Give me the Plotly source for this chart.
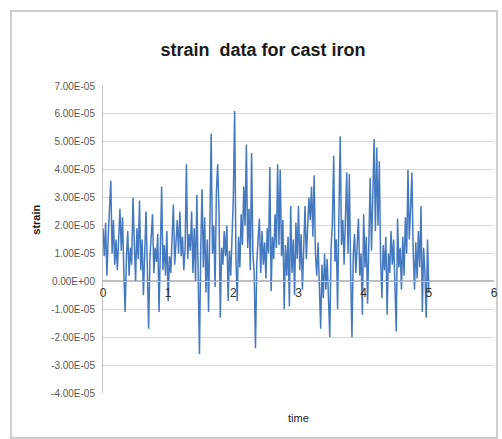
import plotly.graph_objects as go

# strain values in units of 1E-05, sampled every 0.02 s from t = 0 to 5
strain_e5 = [
    1.9, 0.9, 2.1, 0.2, 1.6, 2.8, 3.6, 1.0, 2.2, 0.6,
    1.5, 0.4, 1.3, 2.6, 1.1, 2.3, 0.3, -1.1, 0.9, 1.8,
    0.2, 1.2, 0.6, 3.0, 1.4, 0.0, 1.9, 0.8, 2.9, 0.4,
    1.5, -0.5, 1.0, 2.5, 0.5, -1.7, 0.8, 1.6, 2.4, 0.3,
    1.2, 0.7, 1.7, -1.1, 1.0, 3.4, 0.4, 1.3, 0.2, 1.8,
    -0.7, 0.9, 0.3, 1.9, 2.75, 0.6, 1.5, 2.2, 1.0, 2.5,
    0.9, 1.6, 0.4, 1.2, 4.2, 0.8, 1.7, 1.1, 2.5, 0.3,
    1.9, 0.0, 3.1, 0.6, -2.6, 1.2, 3.3, 0.5, 2.3, -0.4,
    1.5, -1.1, 2.8, 5.3, 1.0, 2.0, -0.2, 3.2, 4.2, 2.5,
    -1.3, 1.2, 0.6, 1.8, 0.9, 2.0, -0.7, 1.1, 0.2, 1.7,
    3.0, 6.1, 0.8, -0.7, 1.6, 0.5, 2.4, 1.3, 3.4, 2.0,
    4.9, 1.2, 2.6, 0.4, 4.6, 1.0, 0.3, -2.4, 0.7, 1.5,
    2.25, 0.3, 1.8, 0.6, 1.4, 0.1, 1.9, 1.0, 4.1, -0.35,
    1.6, 0.8, 2.4, 1.2, 4.2, 1.3, 4.0, 0.9, 2.2, -1.0,
    1.3, 0.2, 1.6, -0.9, 2.7, 0.3, 1.5, -0.5, 2.1, 0.8,
    2.7, 0.4, 1.7, -0.3, 1.2, 2.7, 0.8, 1.9, 3.0, 2.2,
    3.4, 1.6, 3.8, 1.0, 0.2, 1.4, 0.0, -1.7, 0.6, -0.6,
    1.0, -0.3, 0.8, -0.8, -2.0, 1.2, 2.1, 4.5, 0.7, 1.5,
    -1.0, 2.4, 5.2, 1.3, 2.2, 0.6, 1.9, 3.9, 1.0, 3.85,
    0.4, -2.0, 0.9, 1.7, 0.3, 1.4, 2.25, 0.2, 1.0, -1.2,
    2.4, 0.5, 1.6, -0.8, 2.0, 3.7, 1.1, 2.8, 5.1, 1.8,
    4.8, 2.0, 4.3, 0.8, -0.6, 1.3, 0.4, 1.6, -1.2, 1.0,
    0.3, 1.8, 0.6, 1.5, -0.4, -1.8, 2.25, 0.5, 1.2, -0.3,
    1.6, 0.2, 2.3, 1.0, 4.0, 1.5, 2.6, 3.9, 1.1, -0.3,
    1.4, 0.1, 1.8, 0.5, 2.7, -1.1, 1.2, 0.3, -1.3, 1.5,
    -0.4,
]
sample_step = 0.02
time = [round(i * sample_step, 2) for i in range(len(strain_e5))]
strain = [v * 1e-5 for v in strain_e5]

y_tick_vals = [7e-5, 6e-5, 5e-5, 4e-5, 3e-5, 2e-5, 1e-5, 0.0, -1e-5, -2e-5, -3e-5, -4e-5]
y_tick_text = ["7.00E-05", "6.00E-05", "5.00E-05", "4.00E-05", "3.00E-05", "2.00E-05",
               "1.00E-05", "0.00E+00", "-1.00E-05", "-2.00E-05", "-3.00E-05", "-4.00E-05"]
x_tick_vals = [0, 1, 2, 3, 4, 5, 6]
x_tick_text = ["0", "1", "2", "3", "4", "5", "6"]

title_text = "strain\u00a0 data for cast iron"
x_title = "time"
y_title = "strain"

FONT = "Liberation Sans Narrow, Liberation Sans, Arial"
GRID = "#d9d9d9"

fig = go.Figure()
fig.add_trace(go.Scatter(
    x=time, y=strain, mode="lines",
    line=dict(color="#4479c0", width=1.5),
    hoverinfo="skip", showlegend=False,
))

fig.update_layout(
    width=502, height=439,
    paper_bgcolor="white", plot_bgcolor="white",
    margin=dict(l=103, r=4, t=86, b=46),
    title=dict(text=title_text, x=263 / 502, xanchor="center", y=1 - 50 / 439, yanchor="middle",
               xref="container", yref="container",
               font=dict(family=FONT, size=18, color="#1a1a1a", weight="bold")),
    xaxis=dict(range=[0, 6], tickvals=x_tick_vals, ticktext=x_tick_text,
               anchor="free", position=4 / 11,
               showgrid=False, zeroline=False, showline=True, linecolor="#bfbfbf",
               ticks="", tickfont=dict(family=FONT, size=12, color="#333333")),
    yaxis=dict(range=[-4e-5, 7e-5], tickvals=y_tick_vals, ticktext=y_tick_text,
               showgrid=True, gridcolor=GRID, gridwidth=1,
               zeroline=True, zerolinecolor="#bfbfbf",
               showline=True, linecolor="#bfbfbf", ticks="",
               ticklabelstandoff=5,
               tickfont=dict(family=FONT, size=10, color="#595959")),
    annotations=[
        dict(text=y_title, x=(35 - 103) / 395, y=(393 - 220) / 307, xref="paper", yref="paper",
             xanchor="center", yanchor="middle", textangle=-90, showarrow=False,
             font=dict(family=FONT, size=11, color="#1a1a1a", weight="bold")),
        dict(text=x_title, x=(300 - 103) / 395, y=(393 - 418) / 307, xref="paper", yref="paper",
             xanchor="center", yanchor="middle", showarrow=False,
             font=dict(family=FONT, size=11, color="#1a1a1a")),
    ],
    shapes=[
        dict(type="rect", xref="paper", yref="paper",
             x0=(10 - 103) / 395, x1=(501 - 103) / 395,
             y0=(393 - 438) / 307, y1=(393 - 11) / 307,
             line=dict(color="#bfbfbf", width=1.5), fillcolor="rgba(0,0,0,0)", layer="below"),
    ],
)

fig.write_html("out.html", config={"displayModeBar": False},
               post_script="document.body.style.margin='0';")
